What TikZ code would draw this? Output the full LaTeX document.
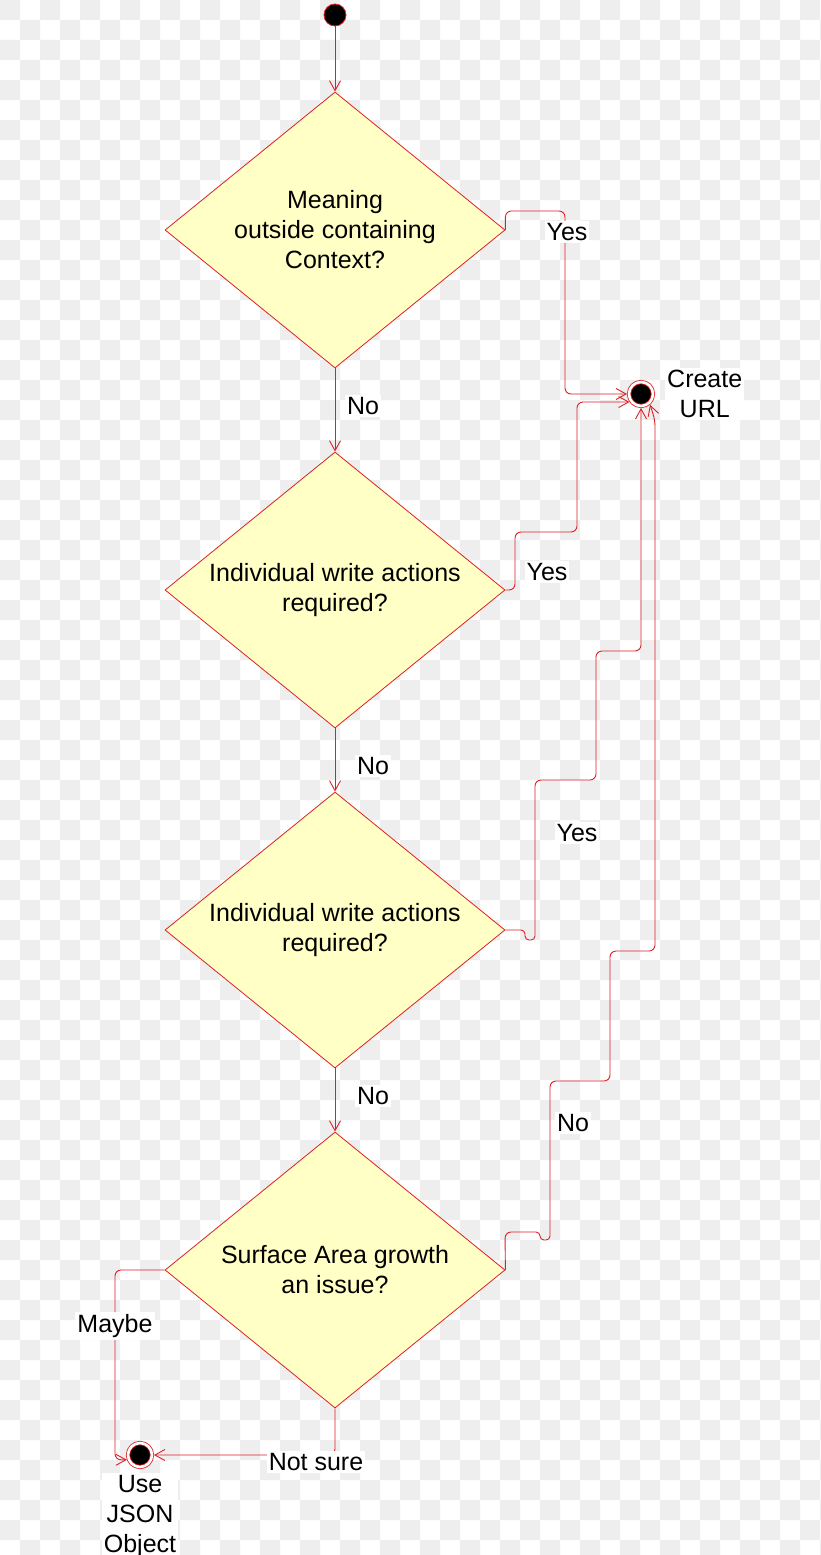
\documentclass[tikz,border=0pt]{standalone}
\usepackage{fontspec}
\setmainfont{Liberation Sans}
\usetikzlibrary{arrows.meta,shapes.geometric,positioning}

\definecolor{linered}{RGB}{222,32,38}
\definecolor{boxyellow}{RGB}{255,255,198}
\definecolor{checkgray}{RGB}{238,238,238}

\begin{document}
\begin{tikzpicture}[x=1pt, y=-1pt, line join=round]

\tikzstyle{decision} = [
    diamond, draw=linered, fill=boxyellow, line width=0.8pt, aspect=1.23,
    minimum width=340pt, minimum height=276pt, inner sep=0pt, align=center,
    font=\fontsize{25}{30}\selectfont]
\tikzstyle{initial} = [circle, fill=black, draw=linered, line width=0.8pt, minimum size=22pt, inner sep=0pt]
\tikzstyle{final} = [circle, fill=black, draw=linered, line width=0.8pt, double=white,
    double distance=2.6pt, minimum size=24pt, inner sep=0pt, outer sep=2pt]
\tikzstyle{lbl} = [fill=white, inner sep=2pt, align=center, font=\fontsize{25}{30}\selectfont]
\tikzstyle{flow} = [draw=linered, line width=0.9pt, rounded corners=6pt,
    -{Straight Barb[length=10pt,width=11pt]}]

% checker background
\useasboundingbox (0,0) rectangle (820,1555);
\fill[white] (0,0) rectangle (820,1555);
\foreach \i in {0,40,...,800}
  \foreach \j in {0,40,...,1520}
    \fill[checkgray] (\i,\j) rectangle ++(20,20) (\i+20,\j+20) rectangle ++(20,20);

\node[initial] at (335,15) (start) {};

\node[decision] at (335,230) (q1) {Meaning\\outside containing\\Context?};
\node[decision] at (335,590) (q2) {Individual write actions\\required?};
\node[decision] at (335,930) (q3) {Individual write actions\\required?};
\node[decision] at (335,1270) (q4) {Surface Area growth\\an issue?};

\node[final] at (641,394) (url) {};
\node[final] at (140,1455) (json) {};
\node[lbl, right=10pt of url] (urllbl) {Create\\URL};
\node[lbl, below=4pt of json] (jsonlbl) {Use\\JSON\\Object};

% straight down
\draw[flow] (start) -- (q1);
\draw[flow] (q1) -- (q2);
\draw[flow] (q2) -- (q3);
\draw[flow] (q3) -- (q4);

% to Create URL
\draw[flow] (q1.east) |- (565,211) |- (url.west);
\draw[flow] (q2.east) -- (515,590) |- (577,532) |- (url.215);
\draw[flow] (q3.east) [rounded corners=4pt] -- (525,930) -- (525,940) -- (535,940)
  [rounded corners=6pt] |- (596,780) -- (596,651) -| (url.south);
\draw[flow] (q4.east) -- (505,1232) [rounded corners=4pt] -- (540,1232) -- (540,1240) -- (550,1240)
  [rounded corners=6pt] |- (610,1081) |- (655,951) -- (655,420) -- (url.-50);

% to Use JSON Object
\draw[flow] (q4.west) -- (115,1270) |- (json.200);
\draw[flow] (q4.south) |- (json.east);

\node[lbl] at (567,232) (yes1) {Yes};
\node[lbl] at (363,406) (no1) {No};
\node[lbl] at (547,572) (yes2) {Yes};
\node[lbl] at (373,766) (no2) {No};
\node[lbl] at (577,833) (yes3) {Yes};
\node[lbl] at (373,1096) (no3) {No};
\node[lbl] at (573,1123) (no4) {No};
\node[lbl] at (115,1326) (maybe) {Maybe};
\node[lbl] at (316,1462) (notsure) {Not sure};

\end{tikzpicture}
\end{document}
